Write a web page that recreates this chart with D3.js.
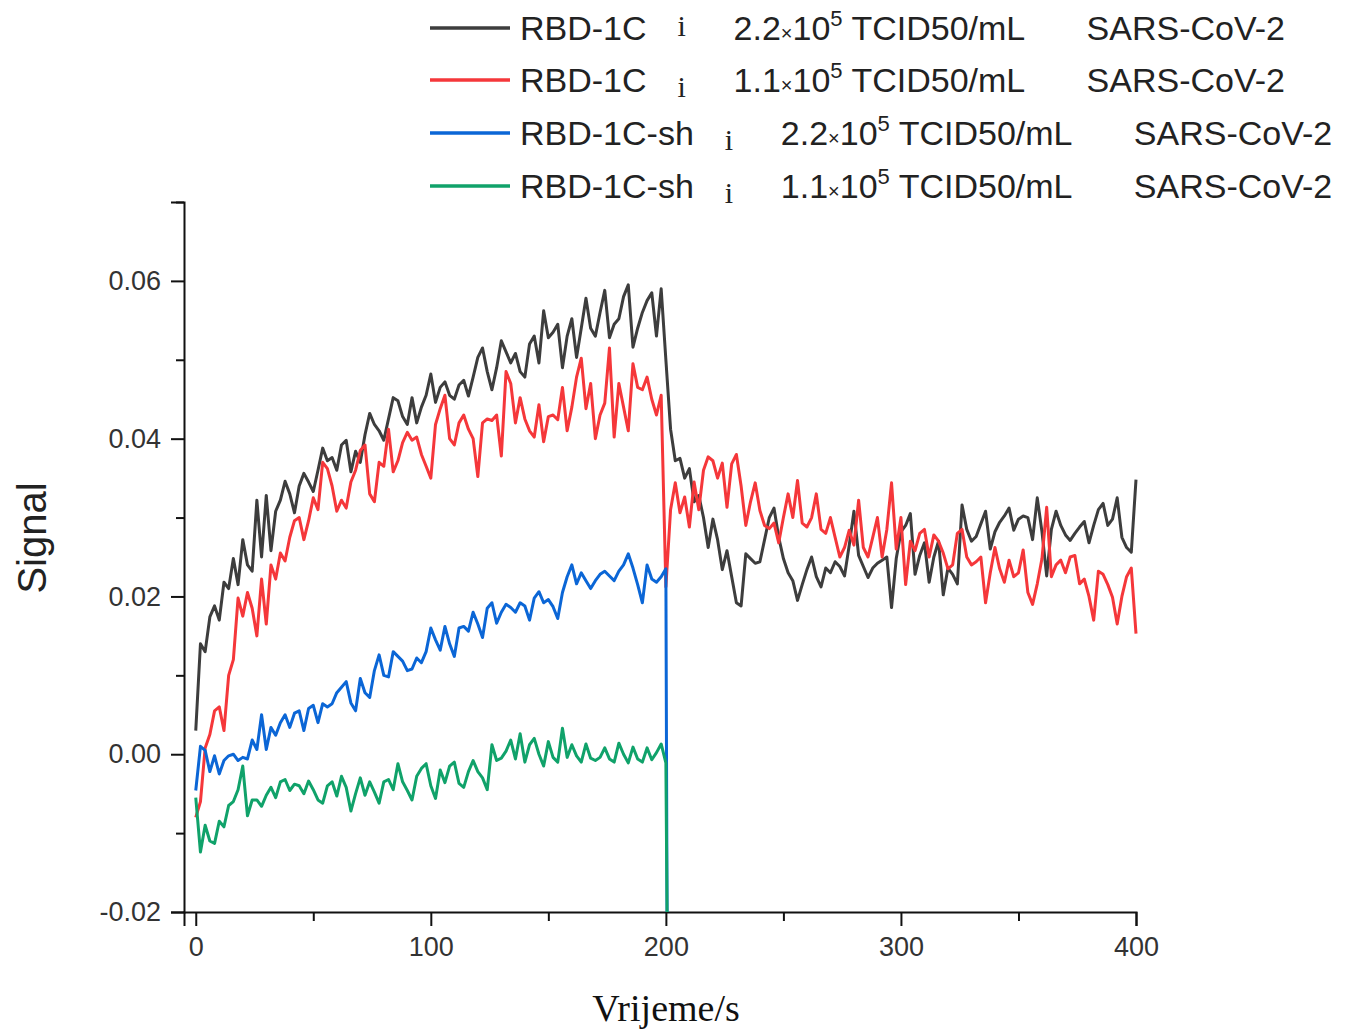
<!DOCTYPE html>
<html>
<head>
<meta charset="utf-8">
<style>
  body { margin: 0; background: #fff; }
  svg { display: block; }
</style>
</head>
<body>
<svg width="1352" height="1029"></svg>
<script src="https://d3js.org/d3.v7.min.js"></script>
<script>

// ---- data ----
var seriesNames = ["RBD-1C", "RBD-1C", "RBD-1C-sh", "RBD-1C-sh"];
var concMantissa = ["2.2", "1.1", "2.2", "1.1"];
var concExponent = "5";
var concUnit = "TCID50/mL";
var virusName = "SARS-CoV-2";
var xTicks = [0, 100, 200, 300, 400];
var xMinor = [50, 150, 250, 350];
var yTicks = [-0.02, 0.00, 0.02, 0.04, 0.06];
var yMinor = [-0.01, 0.01, 0.03, 0.05, 0.07];

// time in s, sampled every 2 s
var timeLong = d3.range(0, 401, 2);
var timeShort = d3.range(0, 201, 2).concat([200.5]);

var black22 = [
 0.0030, 0.0140, 0.0130, 0.0174, 0.0188, 0.0170, 0.0218, 0.0210, 0.0248, 0.0215,
 0.0272, 0.0240, 0.0232, 0.0322, 0.0250, 0.0328, 0.0258, 0.0308, 0.0322, 0.0346,
 0.0330, 0.0306, 0.0340, 0.0356, 0.0345, 0.0333, 0.0360, 0.0388, 0.0372, 0.0376,
 0.0360, 0.0392, 0.0398, 0.0358, 0.0384, 0.0370, 0.0405, 0.0432, 0.0418, 0.0410,
 0.0398, 0.0425, 0.0452, 0.0448, 0.0428, 0.0418, 0.0452, 0.0420, 0.0440, 0.0455,
 0.0482, 0.0446, 0.0465, 0.0472, 0.0455, 0.0450, 0.0468, 0.0474, 0.0454, 0.0478,
 0.0503, 0.0515, 0.0485, 0.0462, 0.0490, 0.0524, 0.0510, 0.0496, 0.0508, 0.0485,
 0.0478, 0.0520, 0.0530, 0.0496, 0.0562, 0.0528, 0.0535, 0.0545, 0.0490, 0.0530,
 0.0552, 0.0503, 0.0540, 0.0578, 0.0540, 0.0530, 0.0560, 0.0588, 0.0528, 0.0545,
 0.0552, 0.0580, 0.0595, 0.0516, 0.0540, 0.0560, 0.0575, 0.0585, 0.0530, 0.0590,
 0.0500, 0.0412, 0.0372, 0.0375, 0.0350, 0.0362, 0.0320, 0.0328, 0.0300, 0.0262,
 0.0298, 0.0272, 0.0234, 0.0258, 0.0225, 0.0192, 0.0188, 0.0254, 0.0248, 0.0242,
 0.0244, 0.0272, 0.0300, 0.0312, 0.0275, 0.0248, 0.0230, 0.0220, 0.0195, 0.0215,
 0.0234, 0.0250, 0.0225, 0.0212, 0.0236, 0.0230, 0.0244, 0.0238, 0.0226, 0.0265,
 0.0308, 0.0252, 0.0238, 0.0224, 0.0236, 0.0242, 0.0246, 0.0250, 0.0186, 0.0248,
 0.0282, 0.0290, 0.0305, 0.0228, 0.0252, 0.0268, 0.0218, 0.0250, 0.0270, 0.0202,
 0.0236, 0.0228, 0.0216, 0.0316, 0.0285, 0.0270, 0.0276, 0.0292, 0.0308, 0.0260,
 0.0282, 0.0294, 0.0302, 0.0312, 0.0284, 0.0298, 0.0302, 0.0300, 0.0272, 0.0325,
 0.0282, 0.0226, 0.0285, 0.0308, 0.0290, 0.0278, 0.0271, 0.0280, 0.0288, 0.0295,
 0.0268, 0.0290, 0.0310, 0.0318, 0.0290, 0.0298, 0.0325, 0.0275, 0.0262, 0.0256,
 0.0348
];

var red11 = [
-0.0080,-0.0060, 0.0008, 0.0025, 0.0055, 0.0060, 0.0030, 0.0100, 0.0120, 0.0198,
 0.0175, 0.0205, 0.0185, 0.0150, 0.0222, 0.0165, 0.0240, 0.0222, 0.0255, 0.0245,
 0.0275, 0.0296, 0.0300, 0.0272, 0.0296, 0.0325, 0.0310, 0.0370, 0.0362, 0.0340,
 0.0308, 0.0322, 0.0312, 0.0345, 0.0360, 0.0385, 0.0392, 0.0330, 0.0320, 0.0370,
 0.0365, 0.0412, 0.0358, 0.0372, 0.0395, 0.0408, 0.0398, 0.0402, 0.0380, 0.0365,
 0.0350, 0.0418, 0.0438, 0.0455, 0.0400, 0.0392, 0.0420, 0.0430, 0.0412, 0.0400,
 0.0352, 0.0420, 0.0425, 0.0423, 0.0430, 0.0378, 0.0485, 0.0470, 0.0420, 0.0452,
 0.0425, 0.0410, 0.0402, 0.0443, 0.0396, 0.0428, 0.0430, 0.0424, 0.0465, 0.0410,
 0.0440, 0.0478, 0.0502, 0.0438, 0.0470, 0.0400, 0.0430, 0.0445, 0.0515, 0.0402,
 0.0470, 0.0440, 0.0410, 0.0495, 0.0465, 0.0462, 0.0478, 0.0450, 0.0430, 0.0455,
 0.0212, 0.0310, 0.0344, 0.0306, 0.0326, 0.0288, 0.0345, 0.0310, 0.0360, 0.0377,
 0.0372, 0.0350, 0.0369, 0.0313, 0.0368, 0.0380, 0.0340, 0.0290, 0.0320, 0.0344,
 0.0309, 0.0290, 0.0286, 0.0293, 0.0268, 0.0300, 0.0330, 0.0300, 0.0347, 0.0293,
 0.0288, 0.0300, 0.0330, 0.0285, 0.0280, 0.0300, 0.0275, 0.0250, 0.0262, 0.0284,
 0.0265, 0.0322, 0.0262, 0.0250, 0.0275, 0.0300, 0.0250, 0.0285, 0.0344, 0.0260,
 0.0300, 0.0215, 0.0270, 0.0258, 0.0280, 0.0285, 0.0250, 0.0278, 0.0270, 0.0255,
 0.0235, 0.0240, 0.0280, 0.0285, 0.0250, 0.0240, 0.0244, 0.0250, 0.0192, 0.0230,
 0.0262, 0.0235, 0.0218, 0.0246, 0.0225, 0.0230, 0.0259, 0.0205, 0.0190, 0.0216,
 0.0248, 0.0313, 0.0225, 0.0240, 0.0246, 0.0230, 0.0250, 0.0252, 0.0216, 0.0222,
 0.0200, 0.0170, 0.0232, 0.0228, 0.0215, 0.0199, 0.0165, 0.0200, 0.0225, 0.0236,
 0.0153
];

var blue22 = [
-0.0046, 0.0010, 0.0005,-0.0022,-0.0002,-0.0025,-0.0008,-0.0002, 0.0000,-0.0008,
-0.0004,-0.0006, 0.0018, 0.0006, 0.0050, 0.0006, 0.0034, 0.0024, 0.0040, 0.0050,
 0.0034, 0.0052, 0.0055, 0.0030, 0.0058, 0.0062, 0.0040, 0.0064, 0.0060, 0.0064,
 0.0078, 0.0085, 0.0092, 0.0065, 0.0055, 0.0096, 0.0078, 0.0072, 0.0106, 0.0126,
 0.0100, 0.0098, 0.0130, 0.0124, 0.0118, 0.0106, 0.0108, 0.0122, 0.0116, 0.0130,
 0.0160, 0.0145, 0.0132, 0.0162, 0.0140, 0.0124, 0.0160, 0.0162, 0.0156, 0.0180,
 0.0165, 0.0148, 0.0185, 0.0192, 0.0166, 0.0180, 0.0190, 0.0186, 0.0180, 0.0192,
 0.0188, 0.0170, 0.0198, 0.0206, 0.0192, 0.0196, 0.0187, 0.0172, 0.0205, 0.0225,
 0.0240, 0.0216, 0.0230, 0.0220, 0.0210, 0.0220, 0.0228, 0.0232, 0.0226, 0.0220,
 0.0232, 0.0240, 0.0254, 0.0236, 0.0215, 0.0192, 0.0240, 0.0222, 0.0218, 0.0225,
 0.0235,-0.0200
];

var green11 = [
-0.0055,-0.0124,-0.0090,-0.0110,-0.0113,-0.0085,-0.0092,-0.0065,-0.0060,-0.0045,
-0.0015,-0.0078,-0.0058,-0.0058,-0.0066,-0.0052,-0.0042,-0.0055,-0.0035,-0.0032,
-0.0046,-0.0038,-0.0040,-0.0050,-0.0034,-0.0045,-0.0058,-0.0062,-0.0040,-0.0035,
-0.0053,-0.0028,-0.0042,-0.0072,-0.0050,-0.0030,-0.0052,-0.0035,-0.0048,-0.0062,
-0.0035,-0.0032,-0.0045,-0.0012,-0.0035,-0.0046,-0.0058,-0.0028,-0.0018,-0.0012,
-0.0040,-0.0056,-0.0020,-0.0036,-0.0015,-0.0010,-0.0037,-0.0042,-0.0022,-0.0008,
-0.0022,-0.0030,-0.0045, 0.0012,-0.0008,-0.0005, 0.0004, 0.0018,-0.0006, 0.0026,
-0.0010, 0.0012, 0.0020, 0.0000,-0.0015, 0.0016,-0.0004,-0.0010, 0.0033,-0.0004,
 0.0012,-0.0002,-0.0010, 0.0013,-0.0005,-0.0008,-0.0004, 0.0008,-0.0006,-0.0010,
 0.0014, 0.0000,-0.0011, 0.0009,-0.0006,-0.0010, 0.0008,-0.0007, 0.0002, 0.0013,
-0.0011,-0.0200
];

var colors = ["#3d3d3d", "#f5373a", "#0b66d6", "#10a26a"];

var series = [
  {time: timeLong, values: black22},
  {time: timeLong, values: red11},
  {time: timeShort, values: blue22},
  {time: timeShort, values: green11}
];

var svg = d3.select("svg");

var x = d3.scaleLinear().domain([-5, 400]).range([184, 1136]);
var y = d3.scaleLinear().domain([-0.02, 0.07]).range([912, 202]);

var sans = "Arial, 'Liberation Sans', sans-serif";
var serif = "'Times New Roman', 'Liberation Serif', serif";

// plain hyphen for negatives, like the original
var yFormat = function(d) { return d3.format(".2f")(d).replace("\u2212", "-"); };

// ---- axes ----
var yAxis = svg.append("g")
    .attr("transform", "translate(184,0)")
    .call(d3.axisLeft(y).tickValues(yTicks).tickSize(13).tickPadding(10)
      .tickFormat(yFormat));
var yAxisMinor = svg.append("g")
    .attr("transform", "translate(184,0)")
    .call(d3.axisLeft(y).tickValues(yMinor).tickSize(8).tickFormat(""));

var xAxis = svg.append("g")
    .attr("transform", "translate(0,912)")
    .call(d3.axisBottom(x).tickValues(xTicks).tickSize(14).tickPadding(11));
var xAxisMinor = svg.append("g")
    .attr("transform", "translate(0,912)")
    .call(d3.axisBottom(x).tickValues(xMinor).tickSize(9).tickFormat(""));

yAxisMinor.select(".domain").remove();
xAxisMinor.select(".domain").remove();

svg.selectAll(".domain").attr("stroke", "#111").attr("stroke-width", 2);
svg.selectAll(".tick line").attr("stroke", "#111").attr("stroke-width", 2);
svg.selectAll(".tick text")
    .attr("font-family", sans)
    .attr("font-size", 27)
    .attr("fill", "#333");

// axis titles
svg.append("text")
    .attr("transform", "translate(46,538) rotate(-90)")
    .attr("text-anchor", "middle")
    .attr("font-family", sans)
    .attr("font-size", 40)
    .attr("fill", "#222")
    .text("Signal");

svg.append("text")
    .attr("x", 666)
    .attr("y", 1021)
    .attr("text-anchor", "middle")
    .attr("font-family", serif)
    .attr("font-size", 38)
    .attr("fill", "#111")
    .text("Vrijeme/s");

// ---- lines ----
var line = d3.line()
    .x(function(d) { return x(d[0]); })
    .y(function(d) { return y(d[1]); });

series.forEach(function(s, i) {
  var pts = s.values.map(function(v, j) { return [s.time[j], v]; });
  svg.append("path")
      .datum(pts)
      .attr("fill", "none")
      .attr("stroke", colors[i])
      .attr("stroke-width", 3)
      .attr("stroke-linejoin", "round")
      .attr("d", line);
});

// ---- legend ----
var rowY = [28, 80, 133, 186];
var iDrop = [0, 9, 9, 9];

seriesNames.forEach(function(name, i) {
  var g = svg.append("g").attr("transform", "translate(0," + rowY[i] + ")");
  g.append("line")
      .attr("x1", 430).attr("x2", 510)
      .attr("y1", 0).attr("y2", 0)
      .attr("stroke", colors[i])
      .attr("stroke-width", 3.5);

  var nameText = g.append("text")
      .attr("x", 520).attr("y", 12)
      .attr("font-family", sans).attr("font-size", 34).attr("fill", "#222")
      .text(name);
  var nameEnd = 520 + nameText.node().getComputedTextLength();

  var iX = nameEnd + 31;
  g.append("text")
      .attr("x", iX).attr("y", 8 + iDrop[i])
      .attr("font-family", serif).attr("font-size", 30).attr("fill", "#222")
      .text("i");

  var concX = iX + 56;
  var conc = g.append("text")
      .attr("x", concX).attr("y", 12)
      .attr("font-family", sans).attr("font-size", 34).attr("fill", "#222");
  conc.append("tspan").text(concMantissa[i]);
  conc.append("tspan").attr("font-size", 20).text("\u00d7");
  conc.append("tspan").text("10");
  conc.append("tspan").attr("font-size", 22).attr("dy", -14).text(concExponent);
  conc.append("tspan").attr("dy", 14).text(" " + concUnit);

  g.append("text")
      .attr("x", concX + 353).attr("y", 12)
      .attr("font-family", sans).attr("font-size", 34).attr("fill", "#222")
      .text(virusName);
});

</script>
</body>
</html>
